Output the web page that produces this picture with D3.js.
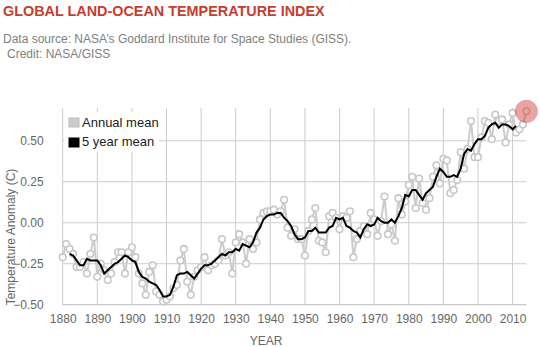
<!DOCTYPE html>
<html>
<head>
<meta charset="utf-8">
<script src="https://cdn.jsdelivr.net/npm/d3@7"></script>
<style>
  body { margin: 0; background: #fff; font-family: "Liberation Sans", Arial, sans-serif; }
  svg { display: block; }
</style>
</head>
<body>
<div id="chart"></div>
<script>
// annual global land-ocean temperature anomaly (C)
const years = d3.range(1880, 2015);
const annualMean = [
  -0.21, -0.13, -0.16, -0.19, -0.27, -0.27, -0.24, -0.31, -0.19, -0.09,
  -0.33, -0.25, -0.29, -0.35, -0.31, -0.24, -0.18, -0.18, -0.31, -0.18,
  -0.15, -0.21, -0.31, -0.37, -0.44, -0.30, -0.26, -0.42, -0.44, -0.48,
  -0.47, -0.45, -0.40, -0.38, -0.23, -0.16, -0.36, -0.44, -0.33, -0.29,
  -0.27, -0.21, -0.29, -0.26, -0.25, -0.23, -0.10, -0.20, -0.18, -0.31,
  -0.12, -0.07, -0.12, -0.25, -0.10, -0.16, -0.12, 0.02, 0.06, 0.07,
  0.07, 0.08, 0.05, 0.07, 0.14, -0.03, -0.08, -0.04, -0.10, -0.10,
  -0.20, -0.05, 0.02, 0.09, -0.11, -0.12, -0.18, 0.04, 0.06, 0.03,
  -0.04, 0.04, 0.03, 0.07, -0.21, -0.10, -0.05, -0.02, -0.07, 0.06,
  0.02, -0.08, 0.01, 0.16, -0.07, -0.01, -0.11, 0.15, 0.05, 0.13,
  0.23, 0.28, 0.09, 0.27, 0.12, 0.08, 0.15, 0.28, 0.35, 0.24,
  0.39, 0.38, 0.18, 0.20, 0.26, 0.43, 0.33, 0.45, 0.62, 0.40,
  0.40, 0.52, 0.62, 0.61, 0.51, 0.66, 0.62, 0.63, 0.49, 0.60,
  0.67, 0.55, 0.57, 0.60, 0.68
];

// 5 year running mean, 1882 - 2011
const fiveYearYears = d3.range(1882, 2012);
const fiveYearMean = [
  -0.19, -0.20, -0.23, -0.26, -0.26, -0.22, -0.23, -0.23,
  -0.23, -0.26, -0.31, -0.29, -0.27, -0.25, -0.24, -0.22, -0.20, -0.21,
  -0.23, -0.24, -0.30, -0.33, -0.34, -0.36, -0.37, -0.38, -0.41, -0.45,
  -0.45, -0.44, -0.39, -0.32, -0.31, -0.31, -0.30, -0.32, -0.34, -0.31,
  -0.28, -0.26, -0.26, -0.25, -0.23, -0.21, -0.19, -0.20, -0.18, -0.18,
  -0.16, -0.17, -0.13, -0.14, -0.15, -0.12, -0.06, -0.03, 0.02, 0.04,
  0.05, 0.05, 0.06, 0.06, 0.03, 0.01, -0.02, -0.07, -0.10, -0.10,
  -0.09, -0.05, -0.05, -0.03, -0.06, -0.06, -0.06, -0.03, -0.02, 0.03,
  0.02, 0.03, -0.02, -0.03, -0.05, -0.06, -0.09, -0.04, -0.01, -0.02,
  -0.01, 0.03, 0.01, 0.00, 0.00, 0.02, 0.00, 0.04, 0.09, 0.17,
  0.16, 0.20, 0.20, 0.17, 0.14, 0.18, 0.20, 0.22, 0.28, 0.33,
  0.31, 0.28, 0.28, 0.29, 0.28, 0.33, 0.42, 0.45, 0.44, 0.48,
  0.51, 0.51, 0.53, 0.58, 0.60, 0.61, 0.58, 0.60, 0.60, 0.59,
  0.57, 0.59
];

const xTicks = d3.range(1880, 2011, 10);
const yTicks = [-0.5, -0.25, 0, 0.25, 0.5];

const W = 540, H = 347;
const plotLeft = 62.7, plotRight = 526.4, plotTop = 108, plotBottom = 304.7;

const svg = d3.select("#chart")
  .append("svg")
    .attr("width", W)
    .attr("height", H);

// titles
svg.append("text")
    .attr("x", 3)
    .attr("y", 16)
    .attr("fill", "#c63d30")
    .style("font-size", "14.4px")
    .style("font-weight", "bold")
    .text("GLOBAL LAND-OCEAN TEMPERATURE INDEX");

svg.append("text")
    .attr("x", 3)
    .attr("y", 43)
    .attr("fill", "#808080")
    .style("font-size", "12px")
    .text("Data source: NASA\u2019s Goddard Institute for Space Studies (GISS).");

svg.append("text")
    .attr("x", 7)
    .attr("y", 58)
    .attr("fill", "#808080")
    .style("font-size", "12px")
    .text("Credit: NASA/GISS");

const x = d3.scaleLinear()
  .domain([1880, 2014])
  .range([plotLeft, plotRight]);

const y = d3.scaleLinear()
  .domain([-0.5, 0.7])
  .range([plotBottom, plotTop]);

// grid
svg.append("g")
  .selectAll("line")
  .data(xTicks)
  .enter().append("line")
    .attr("x1", d => x(d)).attr("x2", d => x(d))
    .attr("y1", plotTop).attr("y2", plotBottom)
    .attr("stroke", "#cccccc");

svg.append("g")
  .selectAll("line")
  .data(yTicks)
  .enter().append("line")
    .attr("x1", plotLeft).attr("x2", plotRight)
    .attr("y1", d => y(d)).attr("y2", d => y(d))
    .attr("stroke", d => d === -0.5 ? "#bbbbbb" : "#cccccc");

// axes (labels only, the lines are the grid above)
const xAxis = svg.append("g")
    .attr("transform", "translate(0," + plotBottom + ")")
    .call(d3.axisBottom(x).tickValues(xTicks).tickFormat(d3.format("d")).tickSize(0).tickPadding(10));

const yAxis = svg.append("g")
    .attr("transform", "translate(" + plotLeft + ",0)")
    .call(d3.axisLeft(y).tickValues(yTicks).tickFormat(d3.format(".2f")).tickSize(0).tickPadding(19));

[xAxis, yAxis].forEach(a => {
  a.select(".domain").remove();
  a.selectAll("text")
    .attr("fill", "#666666")
    .style("font-size", "12px")
    .style("font-family", "'Liberation Sans', Arial, sans-serif");
});

svg.append("text")
    .attr("x", 266)
    .attr("y", 345)
    .attr("text-anchor", "middle")
    .attr("fill", "#666666")
    .style("font-size", "12px")
    .text("YEAR");

svg.append("text")
    .attr("transform", "rotate(-90)")
    .attr("x", -237)
    .attr("y", 15)
    .attr("text-anchor", "middle")
    .attr("fill", "#666666")
    .style("font-size", "12px")
    .text("Temperature Anomaly (C)");

// annual series
const annual = years.map((yr, i) => ({ year: yr, value: annualMean[i] }));
const fiveYear = fiveYearYears.map((yr, i) => ({ year: yr, value: fiveYearMean[i] }));

const line = d3.line()
  .x(d => x(d.year))
  .y(d => y(d.value));

svg.append("path")
    .datum(annual)
    .attr("d", line)
    .attr("fill", "none")
    .attr("stroke", "#cccccc")
    .attr("stroke-width", 2);

svg.append("g")
  .selectAll("circle")
  .data(annual)
  .enter().append("circle")
    .attr("cx", d => x(d.year))
    .attr("cy", d => y(d.value))
    .attr("r", 3.3)
    .attr("fill", "#ffffff")
    .attr("stroke", "#c8c8c8")
    .attr("stroke-width", 1.6);

svg.append("path")
    .datum(fiveYear)
    .attr("d", line)
    .attr("fill", "none")
    .attr("stroke", "#000000")
    .attr("stroke-width", 2);

// highlight latest year
const last = annual[annual.length - 1];
svg.append("circle")
    .attr("cx", x(last.year))
    .attr("cy", y(last.value))
    .attr("r", 11.5)
    .attr("fill", "rgba(204,51,51,0.45)");

// legend
const legend = svg.append("g");
legend.append("rect")
    .attr("x", 64).attr("y", 112)
    .attr("width", 95).attr("height", 40)
    .attr("fill", "#ffffff");

const legendItems = [
  { label: "Annual mean", fill: "#cccccc", stroke: "#bbbbbb" },
  { label: "5 year mean", fill: "#000000", stroke: "#000000" }
];

legendItems.forEach((d, i) => {
  legend.append("rect")
      .attr("x", 69).attr("y", 118 + i * 20)
      .attr("width", 10).attr("height", 9)
      .attr("fill", d.fill)
      .attr("stroke", d.stroke);
  legend.append("text")
      .attr("x", 82).attr("y", 127 + i * 19)
      .attr("fill", "#222222")
      .style("font-size", "13px")
      .text(d.label);
});
</script>
</body>
</html>
